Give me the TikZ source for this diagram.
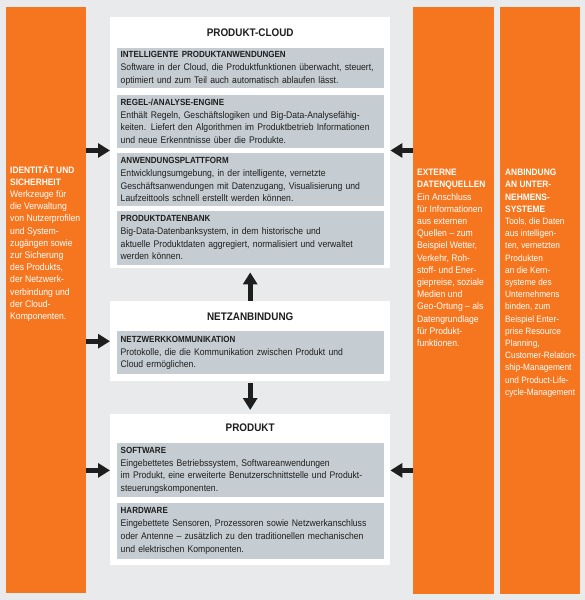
\documentclass[tikz,border=0pt]{standalone}
\usepackage{fontspec}
\setmainfont{Liberation Sans}[FakeStretch=0.9]
\usepackage{xcolor}
\usepackage{tikz}
\usetikzlibrary{arrows.meta, positioning, calc}
\definecolor{orange1}{HTML}{F5761F}
\definecolor{hgrund}{HTML}{E8EAEC}
\definecolor{kastgrau}{HTML}{C5CDD2}
\definecolor{schrift}{HTML}{1E1E1E}
\tikzstyle{ebene} = [rectangle, fill=white, minimum width=280pt, anchor=north west, inner sep=0pt]
\tikzstyle{titel} = [inner sep=0pt, text=schrift, font=\fontsize{11}{13}\selectfont\bfseries]
\tikzstyle{kasten} = [rectangle, fill=kastgrau, text width=259pt, inner xsep=4pt, inner ysep=0pt, align=left, text=schrift, font=\fontsize{9.6}{12.8}\selectfont]
\tikzstyle{saeule} = [rectangle, fill=orange1, anchor=north west, inner sep=0pt]
\tikzstyle{saeulentext} = [text=white, align=left, inner xsep=4pt, inner ysep=0pt, font=\fontsize{9.6}{12.2}\selectfont]
\tikzstyle{pfeil} = [line width=5pt, draw=schrift, -{Triangle[length=12pt,width=14pt]}]
\newcommand{\kopf}[1]{{\bfseries\fontsize{8.9}{12.8}\selectfont #1}}
\newcommand{\skopf}[1]{{\bfseries\fontsize{9.3}{12.2}\selectfont #1}}

\begin{document}
\begin{tikzpicture}[x=1pt, y=-1pt]
	\fill [hgrund] (0,0) rectangle (585,600);
	\useasboundingbox (0,0) rectangle (585,600);
	
	% Saeulen links und rechts
	\node (ident) [saeule, minimum width=80pt, minimum height=586pt] at (6,7) {};
	\node (extern) [saeule, minimum width=81pt, minimum height=587pt] at (413,7) {};
	\node (anbind) [saeule, minimum width=80pt, minimum height=587pt] at (500,7) {};
	
	\node (identtext) [saeulentext, below right=158pt and 0pt of ident.north west] {\skopf{IDENTITÄT UND}\\\skopf{SICHERHEIT}\\Werkzeuge für\\die Verwaltung\\von Nutzerprofilen\\und System-\\zugängen sowie\\zur Sicherung\\des Produkts,\\der Netzwerk-\\verbindung und\\der Cloud-\\Komponenten.};
	\node (externtext) [saeulentext, below right=162pt and 0pt of extern.north west] {\skopf{EXTERNE}\\\skopf{DATENQUELLEN}\\Ein Anschluss\\für Informationen\\aus externen\\Quellen – zum\\Beispiel Wetter,\\Verkehr, Roh-\\stoff- und Ener-\\giepreise, soziale\\Medien und\\Geo-Ortung – als\\Datengrundlage\\für Produkt-\\funktionen.};
	\node (anbindtext) [saeulentext, inner xsep=5pt, font=\fontsize{9.2}{12.2}\selectfont, below right=162pt and 0pt of anbind.north west] {\skopf{ANBINDUNG}\\\skopf{AN UNTER-}\\\skopf{NEHMENS-}\\\skopf{SYSTEME}\\Tools, die Daten\\aus intelligen-\\ten, vernetzten\\Produkten\\an die Kern-\\systeme des\\Unternehmens\\binden, zum\\Beispiel Enter-\\prise Resource\\Planning,\\Customer-Relation-\\ship-Management\\und Product-Life-\\cycle-Management};
	
	% Produkt-Cloud
	\node (cloud) [ebene, minimum height=251pt] at (110,17) {};
	\node (cloudtitel) [titel, below=12pt of cloud.north] {PRODUKT-CLOUD};
	\node (intel) [kasten, minimum height=40pt, below=11pt of cloudtitel] {\kopf{INTELLIGENTE PRODUKTANWENDUNGEN}\\Software in der Cloud, die Produktfunktionen überwacht, steuert,\\optimiert und zum Teil auch automatisch ablaufen lässt.};
	\node (regel) [kasten, minimum height=53pt, below=6pt of intel] {\kopf{REGEL-/ANALYSE-ENGINE}\\Enthält Regeln, Geschäftslogiken und Big-Data-Analysefähig-\\keiten. Liefert den Algorithmen im Produktbetrieb Informationen\\und neue Erkenntnisse über die Produkte.};
	\node (plattform) [kasten, minimum height=53pt, below=5pt of regel] {\kopf{ANWENDUNGSPLATTFORM}\\Entwicklungsumgebung, in der intelligente, vernetzte\\Geschäftsanwendungen mit Datenzugang, Visualisierung und\\Laufzeittools schnell erstellt werden können.};
	\node (datenbank) [kasten, minimum height=54pt, below=4pt of plattform] {\kopf{PRODUKTDATENBANK}\\Big-Data-Datenbanksystem, in dem historische und\\aktuelle Produktdaten aggregiert, normalisiert und verwaltet\\werden können.};
	
	% Netzanbindung
	\node (netz) [ebene, minimum height=80pt] at (110,301) {};
	\node (netztitel) [titel, below=12pt of netz.north] {NETZANBINDUNG};
	\node (netzkomm) [kasten, minimum height=43pt, below=10pt of netztitel] {\kopf{NETZWERKKOMMUNIKATION}\\Protokolle, die die Kommunikation zwischen Produkt und\\Cloud ermöglichen.};
	
	% Produkt
	\node (produkt) [ebene, minimum height=151pt] at (110,414) {};
	\node (produkttitel) [titel, below=10pt of produkt.north] {PRODUKT};
	\node (software) [kasten, minimum height=54pt, below=11pt of produkttitel] {\kopf{SOFTWARE}\\Eingebettetes Betriebssystem, Softwareanwendungen\\im Produkt, eine erweiterte Benutzerschnittstelle und Produkt-\\steuerungskomponenten.};
	\node (hardware) [kasten, minimum height=56pt, below=5pt of software] {\kopf{HARDWARE}\\Eingebettete Sensoren, Prozessoren sowie Netzwerkanschluss\\oder Antenne – zusätzlich zu den traditionellen mechanischen\\und elektrischen Komponenten.};
	
	\coordinate (cloudmitte) at ($(regel.south)!0.5!(plattform.north)$);
	
	\draw [pfeil] (ident.east |- cloudmitte) -- (cloud.west |- cloudmitte);
	\draw [pfeil] (ident.east |- netz.center) -- (netz.west);
	\draw [pfeil] (ident.east |- software.center) -- (produkt.west |- software.center);
	\draw [pfeil] (extern.west |- cloudmitte) -- (cloud.east |- cloudmitte);
	\draw [pfeil] (extern.west |- software.center) -- (produkt.east |- software.center);
	\draw [pfeil, shorten >=4pt] (netz.north) -- (cloud.south);
	\draw [pfeil, shorten <=2pt, shorten >=4pt] (netz.south) -- (produkt.north);
	
\end{tikzpicture}
\end{document}
